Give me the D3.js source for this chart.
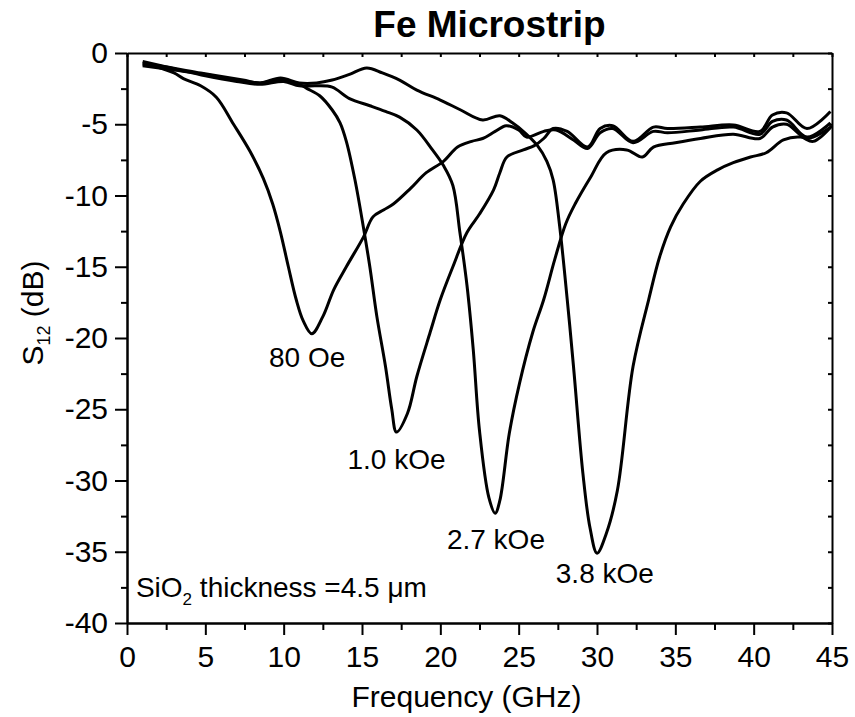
<!DOCTYPE html>
<html>
<head>
<meta charset="utf-8">
<script src="https://cdn.jsdelivr.net/npm/d3@7"></script>
<style>
  body { margin: 0; background: #fff; }
  svg { font-family: Arial, "Liberation Sans", sans-serif; }
  .axis path, .axis line { stroke: #000; stroke-width: 2; }
  .axis text { font-size: 30px; fill: #000; }
  .curve { fill: none; stroke: #000; stroke-width: 3; stroke-linejoin: round; }
</style>
</head>
<body>
<svg class="chart" width="855" height="717"></svg>
<script>
/**********************
 Data
**********************/
// each point is [frequency GHz, S12 dB]
var s80Oe = [[1.0,-0.7],[2.0,-1.0],[3.0,-1.4],[3.6,-1.8],[4.7,-2.3],[5.7,-3.1],[6.8,-5.0],[7.85,-6.9],
  [8.7,-8.8],[9.3,-10.6],[9.8,-12.6],[10.3,-15.0],[10.8,-17.3],[11.25,-18.8],[11.8,-19.7],[12.5,-18.5],
  [13.2,-16.6],[14.0,-15.0],[15.1,-12.9],[15.7,-11.5],[16.4,-11.0],[17.0,-10.6],[18.1,-9.5],[19.1,-8.4],
  [20.2,-7.6],[21.1,-6.6],[22.0,-6.2],[22.7,-6.0],[23.5,-5.5],[24.2,-5.1],[25.0,-5.4],[25.5,-5.9],
  [26.6,-5.5],[27.4,-5.4],[28.5,-6.1],[29.4,-6.7],[30.2,-5.6],[31.0,-5.3],[32.3,-6.3],[33.6,-5.5],
  [34.5,-5.6],[36.6,-5.4],[38.7,-5.2],[40.4,-5.7],[41.2,-4.8],[42.1,-4.7],[43.4,-5.9],[44.9,-4.9]];

var s1kOe = [[1.0,-0.9],[3.0,-1.2],[5.0,-1.5],[7.0,-1.9],[8.5,-2.1],[9.8,-1.9],[11.0,-2.2],[11.5,-2.5],
  [12.3,-3.0],[13.1,-4.0],[13.6,-4.9],[14.0,-6.2],[14.55,-8.9],[15.1,-12.3],[15.5,-15.0],[15.95,-18.5],
  [16.5,-22.0],[16.9,-25.0],[17.2,-26.6],[17.9,-25.3],[18.5,-22.7],[19.35,-19.6],[20.0,-17.3],[20.8,-15.0],
  [21.7,-12.6],[22.5,-11.3],[23.4,-9.6],[23.8,-8.4],[24.25,-7.3],[25.3,-6.8],[26.0,-6.5],[26.6,-6.0],
  [27.2,-5.3],[28.1,-5.5],[29.4,-6.6],[30.2,-5.3],[31.0,-5.1],[32.3,-6.2],[33.6,-5.2],[34.5,-5.3],
  [36.6,-5.2],[38.7,-5.05],[40.4,-5.5],[41.2,-4.35],[42.1,-4.2],[43.4,-5.3],[44.9,-4.1]];

var s27kOe = [[1.0,-0.6],[3.0,-1.1],[5.0,-1.6],[7.0,-2.0],[8.5,-2.2],[10.0,-2.0],[11.0,-2.3],[12.1,-2.3],
  [13.1,-2.4],[14.2,-3.2],[15.5,-3.7],[16.5,-4.1],[17.4,-4.5],[18.5,-5.4],[19.5,-6.8],[20.2,-7.9],
  [20.8,-9.3],[21.25,-12.6],[21.7,-16.3],[22.1,-20.8],[22.5,-26.5],[23.1,-31.2],[23.5,-32.3],[23.8,-31.4],
  [24.4,-26.7],[25.05,-23.2],[25.9,-19.6],[26.6,-17.3],[27.3,-14.5],[28.0,-12.0],[28.6,-10.6],[29.6,-8.7],
  [30.6,-7.0],[31.9,-6.8],[32.9,-7.3],[33.6,-6.6],[35.0,-6.3],[36.6,-6.0],[38.7,-5.7],[40.4,-6.0],
  [41.2,-5.2],[42.1,-5.0],[43.4,-6.0],[44.9,-5.2]];

var s38kOe = [[1.0,-0.8],[2.0,-0.9],[4.7,-1.4],[7.4,-1.9],[8.5,-2.1],[9.8,-1.75],[11.0,-2.1],[12.1,-2.1],
  [13.1,-1.9],[14.2,-1.5],[15.3,-1.05],[16.3,-1.4],[17.4,-1.9],[18.5,-2.6],[20.0,-3.3],[21.3,-4.0],
  [22.7,-4.7],[23.8,-4.4],[24.6,-4.9],[25.4,-5.6],[26.2,-6.5],[26.8,-7.6],[27.2,-8.9],[27.6,-12.0],
  [28.1,-17.3],[28.5,-22.0],[29.1,-29.5],[29.55,-33.3],[30.0,-35.1],[30.6,-33.7],[31.3,-30.7],[32.3,-22.0],
  [33.3,-17.3],[34.0,-14.3],[34.7,-12.2],[35.5,-10.6],[36.6,-9.0],[37.7,-8.2],[38.7,-7.7],[39.8,-7.3],
  [40.8,-7.0],[41.9,-6.1],[43.0,-5.9],[43.8,-6.2],[45.0,-5.1]];

var seriesList = [s80Oe, s1kOe, s27kOe, s38kOe];

// field labels: text and where they sit (data units)
var fieldLabels = ["80 Oe", "1.0 kOe", "2.7 kOe", "3.8 kOe"];
var fieldLabelAt = [[11.5,-22.0],[17.2,-29.2],[23.55,-34.8],[30.5,-37.2]];

var xMajorTicks = [0,5,10,15,20,25,30,35,40,45];
var yMajorTicks = [0,-5,-10,-15,-20,-25,-30,-35,-40];
var xMinorTicks = d3.range(2.5, 45, 5);
var yMinorTicks = d3.range(-2.5, -40, -5);

/**********************
 Layout
**********************/
var svg = d3.select('svg.chart');
var plot = {l: 127, r: 832, t: 53, b: 623};

var xScale = d3.scaleLinear().domain([0, 45]).range([plot.l, plot.r]);
var yScale = d3.scaleLinear().domain([-40, 0]).range([plot.b, plot.t]);

// plain hyphen for negatives, like the original
var plainFmt = function(d) { return String(d); };

// bottom axis, major + minor ticks pointing out
svg.append('g').attr('class', 'axis')
    .attr('transform', 'translate(0,' + plot.b + ')')
    .call(d3.axisBottom(xScale).tickValues(xMinorTicks).tickSize(7).tickFormat('').tickSizeOuter(0));
svg.append('g').attr('class', 'axis')
    .attr('transform', 'translate(0,' + plot.b + ')')
    .call(d3.axisBottom(xScale).tickValues(xMajorTicks).tickSize(12).tickPadding(11)
        .tickFormat(plainFmt).tickSizeOuter(0));

// left axis
svg.append('g').attr('class', 'axis')
    .attr('transform', 'translate(' + plot.l + ',0)')
    .call(d3.axisLeft(yScale).tickValues(yMinorTicks).tickSize(6).tickFormat('').tickSizeOuter(0));
svg.append('g').attr('class', 'axis')
    .attr('transform', 'translate(' + plot.l + ',0)')
    .call(d3.axisLeft(yScale).tickValues(yMajorTicks).tickSize(12).tickPadding(7)
        .tickFormat(plainFmt).tickSizeOuter(0));

// top and right axes, small ticks pointing in
var allX = xMajorTicks.concat(xMinorTicks);
var allY = yMajorTicks.concat(yMinorTicks);
svg.append('g').attr('class', 'axis')
    .attr('transform', 'translate(0,' + plot.t + ')')
    .call(d3.axisBottom(xScale).tickValues(allX).tickSize(4).tickFormat('').tickSizeOuter(0));
svg.append('g').attr('class', 'axis')
    .attr('transform', 'translate(' + plot.r + ',0)')
    .call(d3.axisLeft(yScale).tickValues(allY).tickSize(4).tickFormat('').tickSizeOuter(0));

// curves
var line = d3.line()
    .x(function(d) { return xScale(d[0]); })
    .y(function(d) { return yScale(d[1]); })
    .curve(d3.curveCatmullRom.alpha(0.5));

svg.append('g').selectAll('path.curve')
    .data(seriesList)
    .enter().append('path')
    .attr('class', 'curve')
    .attr('d', line);

// field labels
svg.append('g').selectAll('text')
    .data(fieldLabels)
    .enter().append('text')
    .attr('x', function(d, i) { return xScale(fieldLabelAt[i][0]); })
    .attr('y', function(d, i) { return yScale(fieldLabelAt[i][1]); })
    .attr('text-anchor', 'middle')
    .style('font-size', '28px')
    .text(function(d) { return d; });

// SiO2 note
var note = svg.append('text')
    .attr('x', xScale(0.57))
    .attr('y', yScale(-38.2))
    .style('font-size', '28px');
note.append('tspan').text('SiO');
note.append('tspan').attr('dy', 8).style('font-size', '17px').text('2');
note.append('tspan').attr('dy', -8).text(' thickness =4.5 \u03bcm');

// title
svg.append('text')
    .attr('x', (plot.l + plot.r) / 2 + 10)
    .attr('y', 37)
    .attr('text-anchor', 'middle')
    .style('font-size', '37px')
    .style('font-weight', 'bold')
    .text('Fe Microstrip');

// x label
svg.append('text')
    .attr('x', (plot.l + plot.r) / 2 - 13)
    .attr('y', 707)
    .attr('text-anchor', 'middle')
    .style('font-size', '30px')
    .text('Frequency (GHz)');

// y label
var yLab = svg.append('text')
    .attr('transform', 'translate(43,313) rotate(-90)')
    .attr('text-anchor', 'middle')
    .style('font-size', '30px');
yLab.append('tspan').text('S');
yLab.append('tspan').attr('dy', 7).style('font-size', '18px').text('12');
yLab.append('tspan').attr('dy', -7).text(' (dB)');
</script>
</body>
</html>
